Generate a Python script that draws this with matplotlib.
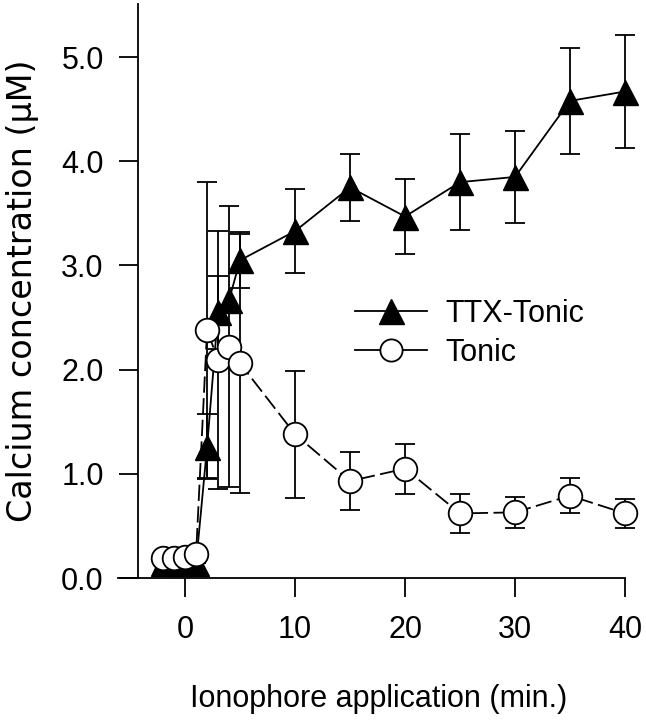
import numpy as np
import matplotlib
matplotlib.use('Agg')
import matplotlib.pyplot as plt
from matplotlib.lines import Line2D

plt.rcParams['font.family'] = ['Liberation Sans', 'DejaVu Sans']

# time after ionophore application (min.)
minutes = [-2, -1, 0, 1, 2, 3, 4, 5, 10, 15, 20, 25, 30, 35, 40]
# TTX-Tonic group, mean and error (uM)
ttx_mean = [0.14, 0.14, 0.14, 0.14, 1.26, 2.55, 2.67, 3.05, 3.33, 3.75, 3.47, 3.80, 3.85, 4.58, 4.67]
ttx_err = [0, 0, 0, 0, 0.31, 0.35, np.nan, 0.27, 0.40, 0.32, 0.36, 0.46, 0.44, 0.51, 0.54]
# Tonic group
tonic_mean = [0.19, 0.19, 0.20, 0.23, 2.38, 2.09, 2.22, 2.06, 1.38, 0.93, 1.05, 0.62, 0.63, 0.79, 0.62]
tonic_err = [0, 0, 0, 0, 1.42, 1.24, 1.35, 1.24, 0.61, 0.28, 0.24, 0.19, 0.15, 0.17, 0.14]

yticks = [0, 1, 2, 3, 4, 5]
xticks = [0, 10, 20, 30, 40]

fs = 22
lw = 1.3

fig = plt.figure(figsize=(6.46, 7.2), dpi=100)
ax = fig.add_axes([118/646, 142/720, 507/646, 574/720])

# TTX-Tonic: filled triangles, solid line
eb1 = ax.errorbar(minutes, ttx_mean, yerr=ttx_err, color='black', lw=lw,
                  marker='^', markersize=18, markerfacecolor='black',
                  markeredgecolor='black', elinewidth=lw, capsize=7,
                  capthick=lw, zorder=2)
# Tonic: open circles, dashed line
eb2 = ax.errorbar(minutes, tonic_mean, yerr=tonic_err, color='black', lw=lw,
                  linestyle=(0, (9, 3)), marker='o', markersize=17,
                  markerfacecolor='white', markeredgecolor='black',
                  markeredgewidth=lw, elinewidth=lw, capsize=7, capthick=lw,
                  zorder=3)
# let markers and caps at 40 min hang over the axes edge
for eb in (eb1, eb2):
    for art in eb.get_children():
        art.set_clip_on(False)

ax.set_xlim(-6.1, 40)
ax.set_ylim(0, 5.51)
ax.spines['top'].set_visible(False)
ax.spines['right'].set_visible(False)
ax.spines['left'].set_position(('data', -4.27))
for s in ['left', 'bottom']:
    ax.spines[s].set_linewidth(lw)

ax.set_xticks(xticks)
ax.set_xticklabels([str(v) for v in xticks])
ax.set_yticks(yticks)
ax.set_yticklabels(['%.1f' % v for v in yticks])
ax.tick_params(direction='out', length=13.7, width=lw, labelsize=fs)
ax.tick_params(axis='x', pad=13)
ax.tick_params(axis='y', pad=11)

ax.set_xlabel('Ionophore application (min.)', fontsize=fs)
ax.xaxis.set_label_coords(0.515, -0.185)
# the y label is set wider than the rest of the text in the original
ax.set_ylabel('Calcium concentration (\u03bcM)', fontsize=24,
              family=['DejaVu Sans'])
ax.yaxis.set_label_coords(-0.155, 0.5)

handles = [
    Line2D([], [], color='black', lw=lw, marker='^', markersize=18,
           markerfacecolor='black'),
    Line2D([], [], color='black', lw=lw, marker='o', markersize=16,
           markerfacecolor='white', markeredgewidth=lw),
]
ax.legend(handles, ['TTX-Tonic', 'Tonic'], loc='upper left',
          bbox_to_anchor=(355/646, 1 - 299/720), bbox_transform=fig.transFigure,
          frameon=False, fontsize=fs, handlelength=2.35, handletextpad=0.6,
          labelspacing=0.3, borderpad=0, borderaxespad=0)

fig.savefig('out.png', dpi=100)
